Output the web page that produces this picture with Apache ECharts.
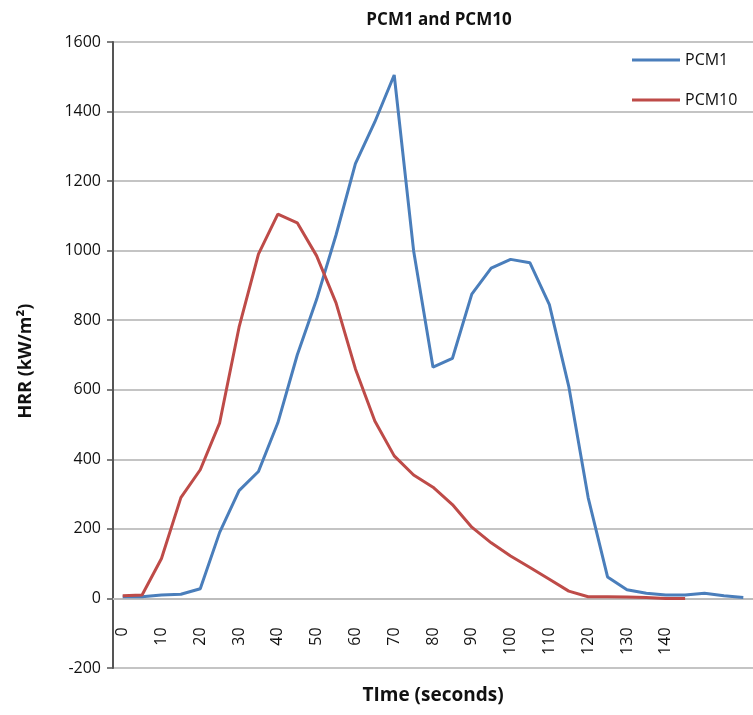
<!DOCTYPE html>
<html>
<head>
<meta charset="utf-8">
<script src="https://cdn.jsdelivr.net/npm/echarts@6/dist/echarts.min.js"></script>
<style>
  html, body { margin: 0; padding: 0; background: #fff; }
  #main { width: 753px; height: 715px; }
</style>
</head>
<body>
<div id="main"></div>
<script>
// time in seconds, one point every 5 s
var times = [0, 5, 10, 15, 20, 25, 30, 35, 40, 45, 50, 55, 60, 65, 70, 75, 80,
  85, 90, 95, 100, 105, 110, 115, 120, 125, 130, 135, 140, 145, 150, 155, 160];
var pcm1 = [5, 5, 10, 12, 28, 190, 310, 365, 505, 700, 860, 1045, 1250, 1370, 1505, 1000, 665,
  690, 875, 950, 975, 965, 845, 610, 290, 62, 25, 15, 10, 10, 15, 8, 3];
var pcm10 = [8, 10, 115, 290, 370, 505, 780, 990, 1105, 1080, 985, 850, 660, 510, 410, 355, 320,
  270, 205, 160, 122, 89, 55, 21, 5, 5, 4, 3, 0, 0];
var lastLabel = 140;

var chart = echarts.init(document.getElementById('main'));
var font = '"Open Sans", "Liberation Sans", sans-serif';

// x axis sits on the zero line: 200 units above the bottom of the grid
var gridTop = 42, gridBottom = 47;
var zeroOffset = (715 - gridTop - gridBottom) * 200 / 1800;

var option = {
  backgroundColor: '#fff',
  animation: false,
  title: {
    text: 'PCM1 and PCM10',
    left: 434,
    top: 7,
    textAlign: 'center',
    textStyle: { fontFamily: font, fontSize: 17, fontWeight: 'bold', color: '#111' }
  },
  legend: {
    orient: 'vertical',
    left: 627,
    top: 47,
    icon: 'rect',
    itemWidth: 48,
    itemHeight: 3,
    itemGap: 24,
    textStyle: { fontFamily: font, fontSize: 16, color: '#111' },
    data: ['PCM1', 'PCM10']
  },
  grid: { left: 113, right: 0, top: gridTop, bottom: gridBottom, containLabel: false, outerBoundsMode: 'none' },
  xAxis: {
    type: 'category',
    data: times,
    boundaryGap: true,
    offset: -zeroOffset,
    name: 'TIme (seconds)',
    nameLocation: 'middle',
    nameGap: 88,
    nameTextStyle: { fontFamily: font, fontSize: 19, fontWeight: 'bold', color: '#111' },
    axisLine: { onZero: false, lineStyle: { color: '#bdbdbd', width: 2 } },
    axisTick: { interval: 0, length: 7, lineStyle: { color: '#bdbdbd', width: 1.5 } },
    axisLabel: {
      interval: function (idx, val) { return idx % 2 === 0 && Number(val) <= lastLabel; },
      rotate: 90,
      margin: 29,
      fontFamily: font,
      fontSize: 16,
      color: '#111'
    },
    splitLine: { show: false }
  },
  yAxis: {
    type: 'value',
    min: -200,
    max: 1600,
    interval: 200,
    name: 'HRR (kW/m²)',
    nameLocation: 'middle',
    nameGap: 78,
    nameTextStyle: { fontFamily: font, fontSize: 18, fontWeight: 'bold', color: '#111', padding: [0, 12, 0, 0] },
    axisLine: { show: true, lineStyle: { color: '#555', width: 2 } },
    axisTick: { show: true, length: 6, lineStyle: { color: '#555', width: 1.5 } },
    axisLabel: {
      margin: 12, fontFamily: font, fontSize: 16, color: '#111',
      formatter: function (v) { return String(v); }
    },
    splitLine: { lineStyle: { color: '#c4c4c4', width: 2 } }
  },
  series: [
    {
      name: 'PCM1',
      type: 'line',
      data: pcm1,
      symbol: 'none',
      lineStyle: { color: '#4a7ebb', width: 3 },
      itemStyle: { color: '#4a7ebb' }
    },
    {
      name: 'PCM10',
      type: 'line',
      data: pcm10,
      symbol: 'none',
      lineStyle: { color: '#be4b48', width: 3 },
      itemStyle: { color: '#be4b48' }
    }
  ]
};

chart.setOption(option);
</script>
</body>
</html>
